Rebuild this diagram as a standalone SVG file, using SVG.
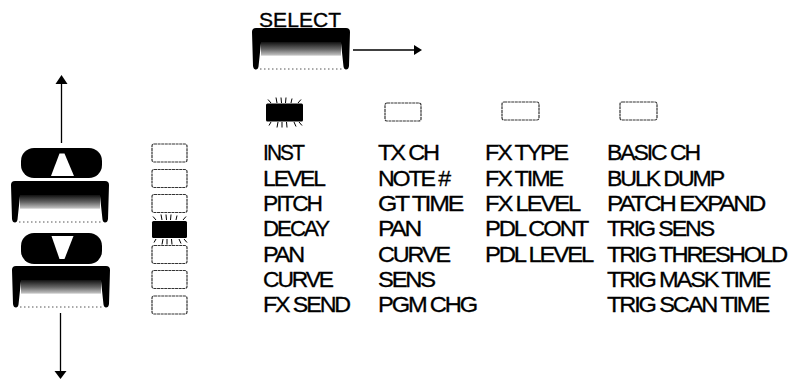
<svg xmlns="http://www.w3.org/2000/svg" width="789" height="380" viewBox="0 0 789 380">
<style>
  .lbl{font-family:"Liberation Sans",Arial,Helvetica,sans-serif;font-size:22px;letter-spacing:-2px;fill:#000;stroke:#000;stroke-width:0.3}
  .sel{font-family:"Liberation Sans",Arial,Helvetica,sans-serif;font-size:21px;fill:#000;stroke:#000;stroke-width:0.35}
  .led{fill:#fff;stroke:#333;stroke-width:1.2;stroke-dasharray:3 0.6}
  .ledon{fill:#000}
  .ray{stroke:#000;stroke-width:1;fill:none}
  .conn{stroke:#000;stroke-width:1.3;fill:none}
  .head{fill:#000}
  .pill{fill:#000}
  .tri{fill:#fff}
  .dots{stroke:#555;stroke-width:1;stroke-dasharray:1.5 2.5;fill:none}
</style>
<defs>
  <linearGradient id="grain" x1="0" y1="0" x2="0" y2="1">
    <stop offset="0" stop-color="#111"/>
    <stop offset="0.45" stop-color="#666"/>
    <stop offset="0.8" stop-color="#bbb"/>
    <stop offset="0.9" stop-color="#fff"/>
    <stop offset="1" stop-color="#fff"/>
  </linearGradient>
  <g id="key">
    <path d="M0,4 Q0,0 4,0 L94,0 Q98,0 98,4 L97,38 Q96.5,41.5 94,41.5 Q92,41.5 91.5,38.5 L89,15 L9,15 L6.5,38.5 Q6,41.5 4,41.5 Q1.5,41.5 1,38 Z" fill="#000"/>
    <rect x="9" y="14" width="80" height="16" fill="url(#grain)"/>
    <line x1="8" y1="41" x2="91" y2="41" class="dots"/>
  </g>
  <g id="rays">
    <path class="ray" d="M2,-4 L5,-0.5 M10,-6 L11,-0.5 M15,-6 L15.5,-0.5 M20,-6 L19.5,-0.5 M26,-5 L25,-0.5 M35,-4 L32,-0.5 M3,22 L5,18.5 M11,24 L12,18.5 M16,24 L16,18.5 M21,24 L20.5,18.5 M30,23 L28,18.5 M36,22 L33,18.5"/>
  </g>
</defs>

<g id="connectors">
  <line class="conn" x1="353" y1="50" x2="415" y2="50"/>
  <polygon class="head" points="414,45 422,50 414,55"/>
  <line class="conn" x1="61.5" y1="143" x2="61.5" y2="82"/>
  <polygon class="head" points="55.5,84 61.5,75 67.5,84"/>
  <line class="conn" x1="60.5" y1="313" x2="60.5" y2="372"/>
  <polygon class="head" points="54.5,371 60.5,379 66.5,371"/>
</g>

<g id="select-button">
  <text class="sel" x="259" y="27" textLength="82" lengthAdjust="spacing">SELECT</text>
  <use href="#key" x="252" y="28"/>
</g>

<g id="up-button">
  <rect class="pill" x="21" y="148" width="81" height="30" rx="13" ry="13"/>
  <polygon class="tri" points="59.5,153.5 64.5,153.5 74,176 51,176"/>
  <use href="#key" x="11" y="181"/>
</g>

<g id="down-button">
  <rect class="pill" x="21" y="233" width="81" height="31" rx="13" ry="13"/>
  <polygon class="tri" points="51.5,236 73.5,236 64.5,259 59.5,259"/>
  <use href="#key" x="12" y="266"/>
</g>

<g id="row-leds">
  <rect class="led" x="152" y="144" width="35" height="18" rx="2"/>
  <rect class="led" x="152" y="169.5" width="35" height="18" rx="2"/>
  <rect class="led" x="152" y="194.5" width="35" height="18" rx="2"/>
  <rect class="ledon" x="152" y="221" width="35" height="17" rx="1.5"/>
  <use href="#rays" x="151" y="220.5"/>
  <rect class="led" x="152" y="245.5" width="35" height="18" rx="2"/>
  <rect class="led" x="152" y="270.5" width="35" height="18" rx="2"/>
  <rect class="led" x="152" y="296" width="35" height="18" rx="2"/>
</g>

<g id="column-1">
  <rect class="ledon" x="266" y="103.5" width="37" height="18" rx="1.5"/>
  <use href="#rays" x="266" y="103.5"/>
  <text class="lbl" x="263" y="160" textLength="40" lengthAdjust="spacingAndGlyphs">INST</text>
  <text class="lbl" x="263" y="185.5" textLength="61" lengthAdjust="spacingAndGlyphs">LEVEL</text>
  <text class="lbl" x="263" y="210.5" textLength="58" lengthAdjust="spacingAndGlyphs">PITCH</text>
  <text class="lbl" x="263" y="236" textLength="65" lengthAdjust="spacingAndGlyphs">DECAY</text>
  <text class="lbl" x="263" y="261.5" textLength="40" lengthAdjust="spacingAndGlyphs">PAN</text>
  <text class="lbl" x="263" y="286.5" textLength="69" lengthAdjust="spacingAndGlyphs">CURVE</text>
  <text class="lbl" x="263" y="312" textLength="86" lengthAdjust="spacingAndGlyphs">FX SEND</text>
</g>

<g id="column-2">
  <rect class="led" x="385" y="103" width="36" height="18" rx="2"/>
  <text class="lbl" x="378" y="160" textLength="60" lengthAdjust="spacingAndGlyphs">TX CH</text>
  <text class="lbl" x="378" y="185.5" textLength="71" lengthAdjust="spacingAndGlyphs">NOTE #</text>
  <text class="lbl" x="378" y="210.5" textLength="84" lengthAdjust="spacingAndGlyphs">GT TIME</text>
  <text class="lbl" x="378" y="236" textLength="42" lengthAdjust="spacingAndGlyphs">PAN</text>
  <text class="lbl" x="378" y="261.5" textLength="71" lengthAdjust="spacingAndGlyphs">CURVE</text>
  <text class="lbl" x="378" y="286.5" textLength="56" lengthAdjust="spacingAndGlyphs">SENS</text>
  <text class="lbl" x="378" y="312" textLength="98" lengthAdjust="spacingAndGlyphs">PGM CHG</text>
</g>

<g id="column-3">
  <rect class="led" x="502" y="102" width="37" height="18" rx="2"/>
  <text class="lbl" x="485" y="160" textLength="82" lengthAdjust="spacingAndGlyphs">FX TYPE</text>
  <text class="lbl" x="485" y="185.5" textLength="77" lengthAdjust="spacingAndGlyphs">FX TIME</text>
  <text class="lbl" x="485" y="210.5" textLength="94" lengthAdjust="spacingAndGlyphs">FX LEVEL</text>
  <text class="lbl" x="485" y="236" textLength="102" lengthAdjust="spacingAndGlyphs">PDL CONT</text>
  <text class="lbl" x="485" y="261.5" textLength="107" lengthAdjust="spacingAndGlyphs">PDL LEVEL</text>
</g>

<g id="column-4">
  <rect class="led" x="620" y="102" width="37" height="18" rx="2"/>
  <text class="lbl" x="607" y="160" textLength="92" lengthAdjust="spacingAndGlyphs">BASIC CH</text>
  <text class="lbl" x="607" y="185.5" textLength="116" lengthAdjust="spacingAndGlyphs">BULK DUMP</text>
  <text class="lbl" x="607" y="210.5" textLength="157" lengthAdjust="spacingAndGlyphs">PATCH EXPAND</text>
  <text class="lbl" x="607" y="236" textLength="106" lengthAdjust="spacingAndGlyphs">TRIG SENS</text>
  <text class="lbl" x="607" y="261.5" textLength="179" lengthAdjust="spacingAndGlyphs">TRIG THRESHOLD</text>
  <text class="lbl" x="607" y="286.5" textLength="162" lengthAdjust="spacingAndGlyphs">TRIG MASK TIME</text>
  <text class="lbl" x="607" y="312" textLength="161" lengthAdjust="spacingAndGlyphs">TRIG SCAN TIME</text>
</g>
</svg>
